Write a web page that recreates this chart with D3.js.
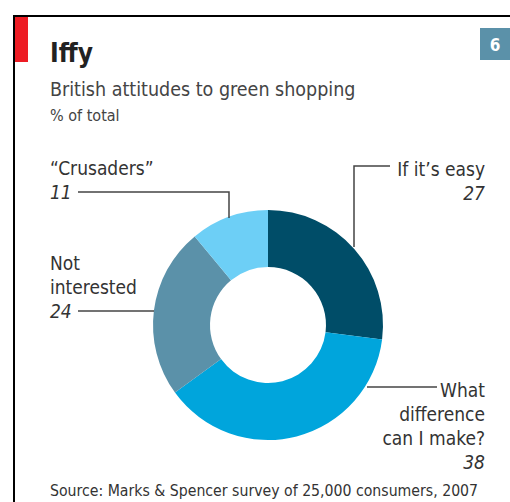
<!DOCTYPE html>
<html>
<head>
<meta charset="utf-8">
<script src="https://cdn.jsdelivr.net/npm/d3@7"></script>
<style>
  body { margin: 0; background: #fff; }
  svg { display: block; }
</style>
</head>
<body>
<div id="chart"></div>
<script>
// Data
const categories = ["If it\u2019s easy", "What difference can I make?", "Not interested", "\u201cCrusaders\u201d"];
const values = [27, 38, 24, 11];
const colours = ["#004d68", "#00a5dc", "#5b91a9", "#6dcff6"];

const width = 510, height = 502;
const cx = 268, cy = 325, outerR = 115, innerR = 58;
const font = "'DejaVu Sans Condensed', 'DejaVu Sans', sans-serif";

const svg = d3.select("#chart").append("svg")
    .attr("width", width)
    .attr("height", height);

// Frame
svg.append("path")
    .attr("d", `M14,${height}V16H${width}`)
    .attr("fill", "none")
    .attr("stroke", "#000")
    .attr("stroke-width", 2);
svg.append("rect").attr("x", 15).attr("y", 17).attr("width", 13).attr("height", 45).attr("fill", "#ed1c24");
svg.append("rect").attr("x", 480).attr("y", 28).attr("width", 30).attr("height", 32).attr("fill", "#5b91a9");
svg.append("text").attr("x", 495).attr("y", 51).attr("text-anchor", "middle")
    .attr("font-family", font).attr("font-weight", "bold").attr("font-size", 17)
    .attr("fill", "#fff").text("6");

// Titles
svg.append("text").attr("x", 50).attr("y", 62)
    .attr("font-family", font).attr("font-weight", "bold").attr("font-size", 26)
    .attr("fill", "#222").text("Iffy");
svg.append("text").attr("x", 50).attr("y", 96)
    .attr("font-family", font).attr("font-size", 19.5)
    .attr("fill", "#444").text("British attitudes to green shopping");
svg.append("text").attr("x", 50).attr("y", 121)
    .attr("font-family", font).attr("font-size", 16)
    .attr("fill", "#444").text("% of total");

// Donut
const pie = d3.pie().sort(null).value(d => d)(values);
const arc = d3.arc().innerRadius(innerR).outerRadius(outerR);

svg.append("g")
    .attr("transform", `translate(${cx},${cy})`)
    .selectAll("path")
    .data(pie)
    .join("path")
    .attr("fill", (d, i) => colours[i])
    .attr("d", arc);

// Leader lines
const leaders = svg.append("g")
    .attr("fill", "none")
    .attr("stroke", "#444")
    .attr("stroke-width", 1.5);
leaders.append("path").attr("d", "M78,192H229V218");
leaders.append("path").attr("d", "M78,311H154");
leaders.append("path").attr("d", "M390,166H354V247");
leaders.append("path").attr("d", "M367,387H437");

// Labels
const labels = svg.append("g")
    .attr("font-family", font)
    .attr("font-size", 19)
    .attr("fill", "#333");

function label(x, y, lines, num, anchor) {
    const t = labels.append("g").attr("text-anchor", anchor);
    lines.forEach(function(s, i) {
        t.append("text").attr("x", x).attr("y", y + i * 24).text(s);
    });
    t.append("text").attr("x", x).attr("y", y + lines.length * 24)
        .attr("font-style", "italic").text(num);
}

label(50, 175, ["\u201cCrusaders\u201d"], values[3], "start");
label(50, 270, ["Not", "interested"], values[2], "start");
label(485, 176, ["If it\u2019s easy"], values[0], "end");
label(485, 397, ["What", "difference", "can I make?"], values[1], "end");

svg.append("text").attr("x", 50).attr("y", 496)
    .attr("font-family", font).attr("font-size", 15.7)
    .attr("fill", "#333").text("Source: Marks & Spencer survey of 25,000 consumers, 2007");
</script>
</body>
</html>
